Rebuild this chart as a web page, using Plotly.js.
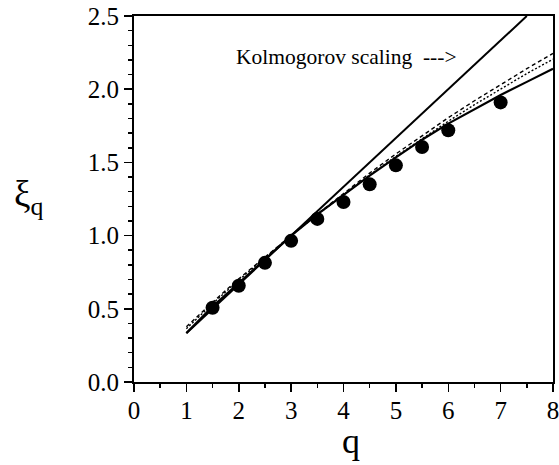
<!DOCTYPE html>
<html>
<head>
<meta charset="utf-8">
<script src="https://cdn.plot.ly/plotly-3.0.1.min.js"></script>
<style>html,body{margin:0;padding:0;background:#fff;}#chart{width:559px;height:465px;}</style>
</head>
<body>
<div id="chart"></div>
<script>
// Measured exponents
var qData = [1.5, 2, 2.5, 3, 3.5, 4, 4.5, 5, 5.5, 6, 7];
var xiData = [0.507, 0.657, 0.814, 0.964, 1.114, 1.23, 1.35, 1.48, 1.605, 1.72, 1.91];

// Kolmogorov scaling line (read endpoints)
var qK41 = [1, 7.5];
var xiK41 = [0.333, 2.5];

// Model curves
var qModel = [1, 1.5, 2, 2.5, 3, 3.5, 4, 4.5, 5, 5.5, 6, 6.5, 7, 7.5, 8];
var xiSolid = [0.335, 0.515, 0.675, 0.84, 1.0, 1.145, 1.28, 1.41, 1.535, 1.655, 1.765, 1.865, 1.96, 2.05, 2.14];
var xiDotted = [0.364, 0.535, 0.696, 0.85, 1.0, 1.143, 1.281, 1.414, 1.541, 1.664, 1.781, 1.894, 2.003, 2.107, 2.205];
var xiDashed = [0.377, 0.545, 0.705, 0.855, 1.0, 1.147, 1.29, 1.427, 1.558, 1.684, 1.805, 1.921, 2.032, 2.14, 2.244];

var annText = "Kolmogorov scaling  --->";
var xTitle = "q";
var yTitle = "ξ<sub>q</sub>";

var serif = "Liberation Serif, Times New Roman, serif";

var traces = [
  {x: qK41, y: xiK41, mode: "lines", line: {color: "#000", width: 2}, hoverinfo: "skip"},
  {x: qModel, y: xiDashed, mode: "lines", line: {color: "#000", width: 1.4, dash: "4px,3px"}, hoverinfo: "skip"},
  {x: qModel, y: xiDotted, mode: "lines", line: {color: "#000", width: 1.4, dash: "2px,2px"}, hoverinfo: "skip"},
  {x: qModel, y: xiSolid, mode: "lines", line: {color: "#000", width: 2.2}, hoverinfo: "skip"},
  {x: qData, y: xiData, mode: "markers", marker: {color: "#000", size: 14}, hoverinfo: "skip"}
];

var axisCommon = {
  showgrid: false, zeroline: false, showline: true, linecolor: "#000", linewidth: 2,
  mirror: true, ticks: "outside", ticklen: 8, tickwidth: 1.5, tickcolor: "#000",
  ticklabeloverflow: "allow",
  tickfont: {family: serif, size: 25, color: "#000"}
};

var plotL = 134, plotR = 6, plotT = 16, plotB = 83, W = 559, H = 465;
function px2paperX(px) { return (px - plotL) / (W - plotL - plotR); }
function px2paperY(py) { return (H - plotB - py) / (H - plotT - plotB); }

var layout = {
  width: W, height: H,
  margin: {l: plotL, r: plotR, t: plotT, b: plotB},
  paper_bgcolor: "#fff", plot_bgcolor: "#fff",
  showlegend: false,
  xaxis: Object.assign({}, axisCommon, {
    range: [0, 8], dtick: 1, tick0: 0, ticklabelstandoff: -3,
    minor: {dtick: 0.5, ticks: "outside", ticklen: 4, tickwidth: 1.5, tickcolor: "#000"}
  }),
  yaxis: Object.assign({}, axisCommon, {
    range: [0, 2.5], dtick: 0.5, tick0: 0, tickformat: ".1f",
    minor: {dtick: 0.1, ticks: "outside", ticklen: 4, tickwidth: 1.5, tickcolor: "#000"}
  }),
  annotations: [
    {x: 4.06, y: 2.22, xref: "x", yref: "y", text: annText, showarrow: false,
     xanchor: "center", yanchor: "middle",
     font: {family: serif, size: 21.5, color: "#000"}},
    {x: px2paperX(29), y: px2paperY(197), xref: "paper", yref: "paper", text: yTitle, showarrow: false,
     xanchor: "center", yanchor: "middle",
     font: {family: serif, size: 37, color: "#000"}},
    {x: px2paperX(351), y: px2paperY(441), xref: "paper", yref: "paper", text: xTitle, showarrow: false,
     xanchor: "center", yanchor: "middle",
     font: {family: serif, size: 36, color: "#000"}}
  ]
};

Plotly.newPlot("chart", traces, layout, {displayModeBar: false, staticPlot: true});
</script>
</body>
</html>
